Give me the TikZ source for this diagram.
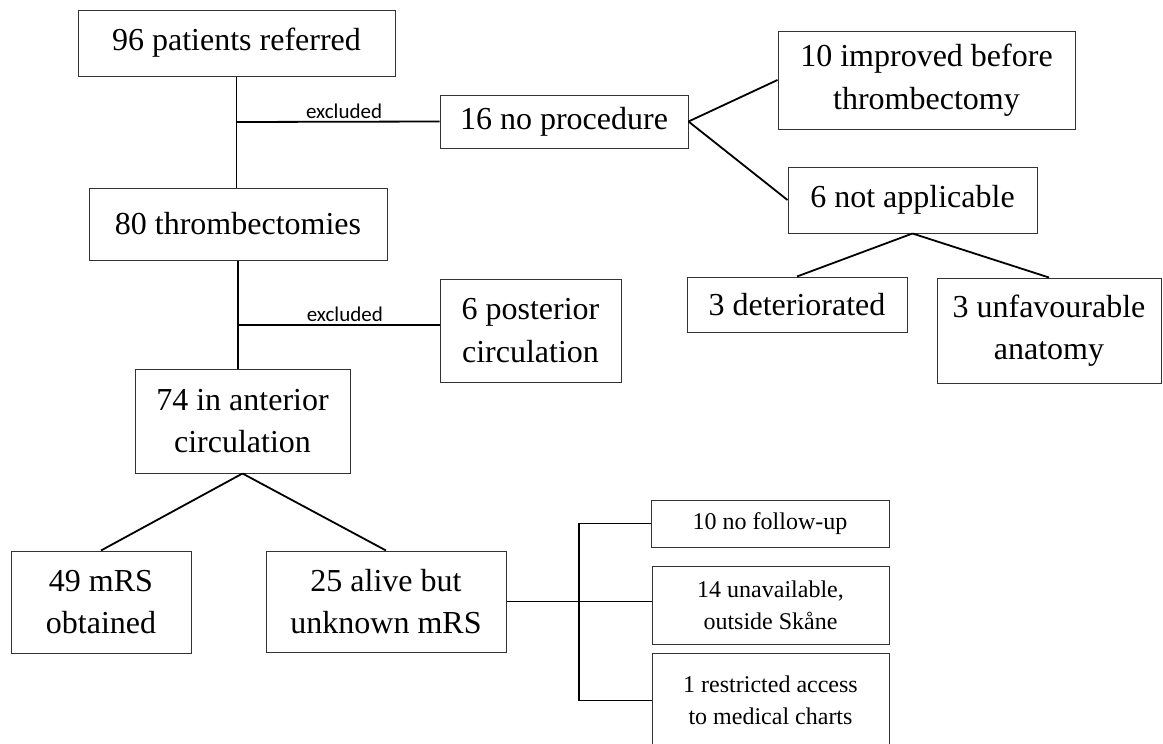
\documentclass[tikz,border=0pt]{standalone}
\usepackage{fontspec}
\setmainfont{Liberation Serif}
\newfontfamily\labelfont{Carlito}
\usepackage{tikz}
\usetikzlibrary{positioning}
\tikzstyle{stage} = [rectangle, draw=black!80, line width=1pt, inner sep=0pt, align=center, font=\fontsize{32}{42.5}\selectfont]
\tikzstyle{substage} = [stage, font=\fontsize{24}{32}\selectfont]
\tikzstyle{link} = [line width=1.8pt, black]
\tikzstyle{note} = [above, inner sep=2pt, font=\labelfont\fontsize{21}{24}\selectfont]

\begin{document}
\begin{tikzpicture}[x=1pt, y=-1pt]
\useasboundingbox (0,0) rectangle (1163,744);

% Nodes
\node (referred) [stage, minimum width=317, minimum height=66] at (236.5,43) {96 patients referred};
\node (noproc) [stage, minimum width=248, minimum height=53] at (564,121.5) {16 no procedure};
\node (improved) [stage, minimum width=297, minimum height=98] at (926.5,80) {10 improved before\\thrombectomy};
\node (notappl) [stage, minimum width=249, minimum height=66] at (912.5,200) {6 not applicable};
\node (thromb) [stage, minimum width=298, minimum height=72] at (238,224) {80 thrombectomies};
\node (posterior) [stage, minimum width=181, minimum height=103] at (530.5,330.5) {6 posterior\\circulation};
\node (deteriorated) [stage, minimum width=220, minimum height=55] at (797,304.5) {3 deteriorated};
\node (anatomy) [stage, minimum width=224, minimum height=105] at (1049,330.5) {3 unfavourable\\anatomy};
\node (anterior) [stage, minimum width=215, minimum height=104] at (242.5,421) {74 in anterior\\circulation};
\node (obtained) [stage, minimum width=180, minimum height=102] at (101,602) {49 mRS\\obtained};
\node (unknown) [stage, minimum width=240, minimum height=101] at (386,601.5) {25 alive but\\unknown mRS};
\node (followup) [substage, minimum width=238, minimum height=47] at (770,523.5) {10 no follow-up};
\node (skane) [substage, minimum width=237, minimum height=78] at (770.5,605) {14 unavailable,\\outside Skåne};
\node (charts) [substage, minimum width=237, minimum height=95] at (770.5,700.5) {1 restricted access\\to medical charts};

\coordinate (ex1) at (236.5,122);
\coordinate (ex2) at (238,325);
\coordinate (split) at (579,601.5);

% Lines
\draw [link] (referred.south) -- (referred.south |- thromb.north);
\draw [link] (ex1) -- node[note, pos=0.53] {excluded} (noproc.west);
\draw [link] (noproc.east) -- (improved.west);
\draw [link] (noproc.east) -- (notappl.west);
\draw [link] (notappl.south) -- (deteriorated.north);
\draw [link] (notappl.south) -- (anatomy.north);
\draw [link] (thromb.south) -- (thromb.south |- anterior.north);
\draw [link] (ex2) -- node[note, pos=0.53] {excluded} (ex2 -| posterior.west);
\draw [link] (anterior.south) -- (obtained.north);
\draw [link] (anterior.south) -- (unknown.north);
\draw [link] (unknown.east) -- (split) -- (split -| skane.west);
\draw [link] (followup.west) -| (split) |- (charts.west);

\end{tikzpicture}
\end{document}
